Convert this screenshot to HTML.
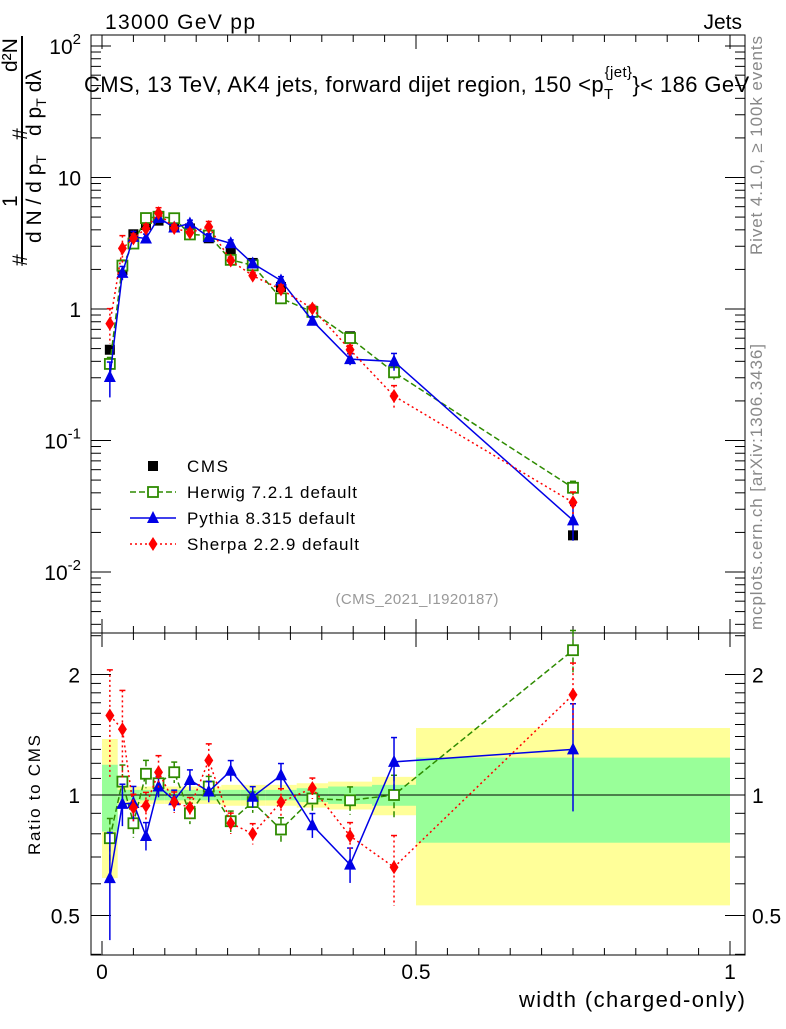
<!DOCTYPE html>
<html><head><meta charset="utf-8"><style>
body{margin:0;background:#fff}
svg text{font-family:"Liberation Sans",sans-serif}
</style></head><body>
<svg id="c" width="786" height="1024" xmlns="http://www.w3.org/2000/svg">
<g id="bands"></g>
<g id="axes"></g>
<g id="series"></g>
<text x="105" y="29" font-size="21" textLength="150">13000 GeV pp</text>
<text x="742" y="29" font-size="21" text-anchor="end">Jets</text>
<text x="84" y="92" font-size="22" letter-spacing="0.4">CMS, 13 TeV, AK4 jets, forward dijet region, 150 &lt;p<tspan font-size="15" dy="7">T</tspan><tspan font-size="15" dy="-22" dx="-9">{jet}</tspan><tspan dy="15">}&lt; 186 GeV</tspan></text>
<g font-size="21">
<text transform="translate(27,266) rotate(-90)">#</text>
<text transform="translate(41,243) rotate(-90)">d N / d p<tspan font-size="14" dy="5">T</tspan></text>
<text transform="translate(17,207) rotate(-90)">1</text>
<line x1="22" y1="262" x2="22" y2="36" stroke="#000" stroke-width="2"/>
<text transform="translate(27,140) rotate(-90)">#</text>
<text transform="translate(41,136) rotate(-90)">d p<tspan font-size="14" dy="5">T</tspan><tspan dy="-5" dx="6">d</tspan>λ</text>
<text transform="translate(17,72) rotate(-90)">d²N</text>
</g>
<text transform="translate(40,795) rotate(-90)" font-size="17" textLength="120" text-anchor="middle">Ratio to CMS</text>
<text x="745" y="1007" font-size="22" textLength="226" text-anchor="end">width (charged-only)</text>
<text transform="translate(762,255) rotate(-90)" font-size="17" textLength="219" fill="#888">Rivet 4.1.0, ≥ 100k events</text>
<text transform="translate(762,630) rotate(-90)" font-size="17" textLength="286" fill="#888">mcplots.cern.ch [arXiv:1306.3436]</text>
<text x="417" y="604" font-size="15" textLength="163" fill="#999" text-anchor="middle">(CMS_2021_I1920187)</text>
<g id="legend"></g>
</svg>
<script>
const centers=[0.0125,0.0325,0.05,0.07,0.09,0.115,0.14,0.17,0.205,0.24,0.285,0.335,0.395,0.465,0.75];
const edges=[0,0.025,0.04,0.06,0.08,0.1,0.13,0.15,0.19,0.22,0.26,0.31,0.36,0.43,0.5,1.0];
const cmsVals=[0.49,1.98,3.7,4.35,4.7,4.3,4.1,3.45,2.75,2.24,1.47,0.97,0.62,0.33,0.019];
const herwigRatio=[0.78,1.08,0.85,1.13,1.07,1.14,0.90,1.05,0.86,0.96,0.82,0.98,0.97,1.0,2.3];
const pythiaRatio=[0.62,0.95,0.955,0.79,1.05,0.97,1.09,1.02,1.15,0.99,1.12,0.84,0.67,1.21,1.3];
const sherpaRatio=[1.58,1.46,0.93,0.94,1.14,0.96,0.93,1.22,0.85,0.80,0.96,1.04,0.79,0.66,1.78];
const herwigErr=[0.12,0.1,0.08,0.08,0.06,0.06,0.06,0.06,0.06,0.06,0.07,0.07,0.08,0.12,0.12];
const pythiaErr=[0.3,0.12,0.1,0.08,0.06,0.06,0.06,0.06,0.06,0.06,0.07,0.07,0.1,0.15,0.3];
const sherpaErr=[0.3,0.25,0.08,0.08,0.1,0.06,0.06,0.1,0.06,0.06,0.08,0.06,0.08,0.2,0.2];
const yellowBand=[0.38,0.06,0.05,0.05,0.05,0.05,0.05,0.05,0.06,0.06,0.06,0.07,0.08,0.11,0.47];
const greenBand=[0.19,0.03,0.03,0.03,0.03,0.03,0.03,0.03,0.03,0.03,0.03,0.04,0.05,0.06,0.24];
const ns="http://www.w3.org/2000/svg";
const X=v=>102+628*v;
const Yt=v=>309-131.5*Math.log10(v);
const Yr=v=>795-120.5*Math.log2(v);
const TOP=35,MID=633,BOT=955,L=91,R=745;
function mk(p,t,a){const e=document.createElementNS(ns,t);for(const k in a)e.setAttribute(k,a[k]);document.getElementById(p).appendChild(e);return e;}
edges.slice(0,-1).forEach((e0,i)=>{const x0=X(e0),x1=X(edges[i+1]);
 let r=mk('bands','rect',{x:x0,y:Yr(1+yellowBand[i]),width:x1-x0,height:Yr(1-yellowBand[i])-Yr(1+yellowBand[i]),fill:'#ffff99'});
 
 
 let g=mk('bands','rect',{x:x0,y:Yr(1+greenBand[i]),width:x1-x0,height:Yr(1-greenBand[i])-Yr(1+greenBand[i]),fill:'#99ff99'});
 
 
});
mk('axes','rect',{x:L,y:TOP,width:R-L,height:MID-TOP,fill:'none',stroke:'#000','stroke-width':1});
mk('axes','rect',{x:L,y:MID,width:R-L,height:BOT-MID,fill:'none',stroke:'#000','stroke-width':1});
mk('axes','line',{x1:L,x2:R,y1:Yr(1),y2:Yr(1),stroke:'#000'});
for(let v=0;v<=1.001;v+=0.05){const maj=Math.abs(v*2-Math.round(v*2))<1e-6;const len=maj?14:7;
 [TOP,MID].forEach(y=>mk('axes','line',{x1:X(v),x2:X(v),y1:y,y2:y+len,stroke:'#000'}));
 [MID,BOT].forEach(y=>mk('axes','line',{x1:X(v),x2:X(v),y1:y,y2:y-len,stroke:'#000'}));}
const xt=['0','0.5','1'];
xt.forEach((t,i)=>{const e=mk('axes','text',{x:X(i*0.5),y:979,'font-size':21,'text-anchor':'middle'});e.textContent=t;
 
 });
for(let d=-3;d<=2;d++)for(let m=1;m<10;m++){const v=m*Math.pow(10,d);const y=Yt(v);if(y<TOP||y>MID)continue;const len=m==1?20:10;
 mk('axes','line',{x1:L,x2:L+len,y1:y,y2:y,stroke:'#000'});mk('axes','line',{x1:R,x2:R-len,y1:y,y2:y,stroke:'#000'});}
const ytl=[['10','-2',0.01],['10','-1',0.1],['1','',1],['10','',10],['10','2',100]];
ytl.forEach(t=>{const e=mk('axes','text',{x:81,y:Yt(t[2])+8,'font-size':21,'text-anchor':'end'});
 e.textContent=t[0];if(t[1]){const s=document.createElementNS(ns,'tspan');s.setAttribute('dy','-10');s.setAttribute('font-size','15');s.textContent=t[1];e.appendChild(s);}
 
 });
[0.4,0.5,0.6,0.7,0.8,0.9,1,1.1,1.2,1.3,1.4,1.5,1.6,1.7,1.8,1.9,2,2.5].forEach(v=>{const y=Yr(v);if(y<MID||y>BOT)return;const len=(v==0.5||v==1||v==2)?20:10;
 mk('axes','line',{x1:L,x2:L+len,y1:y,y2:y,stroke:'#000'});mk('axes','line',{x1:R,x2:R-len,y1:y,y2:y,stroke:'#000'});});
[['0.5',0.5],['1',1],['2',2]].forEach(t=>{[[80,'end'],[752,'start']].forEach(p=>{const e=mk('axes','text',{x:p[0],y:Yr(t[1])+8,'font-size':21,'text-anchor':p[1]});e.textContent=t[0];
 
 });});
function marker(g,type,x,y,col){
 if(type=='sq')mk(g,'rect',{x:x-5,y:y-5,width:10,height:10,fill:'#fff',stroke:col,'stroke-width':1.8});
 else if(type=='fsq')mk(g,'rect',{x:x-5,y:y-5,width:10,height:10,fill:col});
 else if(type=='tri')mk(g,'polygon',{points:`${x},${y-7} ${x-6},${y+5} ${x+6},${y+5}`,fill:col});
 else mk(g,'polygon',{points:`${x},${y-7} ${x-4.5},${y} ${x},${y+7} ${x+4.5},${y}`,fill:col});}
function draw(id,name,ratio,err,col,dash,type){
 const g=mk('series','g',{id:id});
 const topPts=centers.map((c,i)=>[X(c),Yt(cmsVals[i]*ratio[i])]);
 const rPts=centers.map((c,i)=>[X(c),Yr(ratio[i])]);
 [topPts,rPts].forEach(P=>mk(id,'polyline',{points:P.map(p=>p.join(',')).join(' '),fill:'none',stroke:col,'stroke-width':1.5,'stroke-dasharray':dash}));
 centers.forEach((c,i)=>{const x=X(c);
  const segs=[[Yt(cmsVals[i]*ratio[i]*(1+err[i])),Yt(cmsVals[i]*ratio[i]*Math.max(0.05,1-err[i]))],[Yr(ratio[i]*(1+err[i])),Yr(ratio[i]*Math.max(0.05,1-err[i]))]];
  segs.forEach(s=>{mk(id,'line',{x1:x,x2:x,y1:s[0],y2:Math.min(s[1],BOT),stroke:col,'stroke-width':1.5,'stroke-dasharray':dash});
   mk(id,'line',{x1:x-3,x2:x+3,y1:s[0],y2:s[0],stroke:col,'stroke-width':1.5});});
  marker(id,type,topPts[i][0],topPts[i][1],col);marker(id,type,rPts[i][0],rPts[i][1],col);});}
const cg=mk('series','g',{id:'cms'});
centers.forEach((c,i)=>marker('cms','fsq',X(c),Yt(cmsVals[i]),'#000'));
draw('herwig','herwig-series',herwigRatio,herwigErr,'#2e8b00','6,3','sq');
draw('pythia','pythia-series',pythiaRatio,pythiaErr,'#0000e6','none','tri');
draw('sherpa','sherpa-series',sherpaRatio,sherpaErr,'#ff0000','2,3','dia');
const leg=[['CMS','#000','none','fsq',41],['Herwig 7.2.1 default','#2e8b00','6,3','sq',170],['Pythia 8.315 default','#0000e6','none','tri',168],['Sherpa 2.2.9 default','#ff0000','2,3','dia',172]];
leg.forEach((l,i)=>{const y=466+i*26;
 if(i>0)mk('legend','line',{x1:130,x2:176,y1:y,y2:y,stroke:l[1],'stroke-width':1.5,'stroke-dasharray':l[2]});
 marker('legend',l[3],153,y,l[1]);
 const t=mk('legend','text',{x:187,y:y+6,'font-size':17,textLength:l[4]});t.textContent=l[0];
 
 });
</script>
</body></html>
